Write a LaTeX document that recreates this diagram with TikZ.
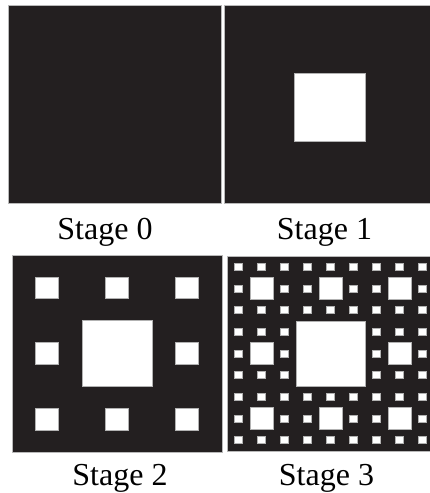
\documentclass[tikz,border=0pt]{standalone}
\usepackage{fontspec}
\setmainfont{Liberation Serif}
\definecolor{carpetdark}{RGB}{35,31,32}

\begin{document}
\begin{tikzpicture}[
    x=1pt, y=-1pt,
    panel/.style={
        fill=carpetdark, draw=gray!55, line width=0.8pt,
    },
    hole/.style={
        fill=white, draw=gray!60, line width=0.6pt,
    },
    caption/.style={
        font=\fontsize{32}{32}\selectfont, anchor=base, inner sep=0pt,
    },
]
\useasboundingbox (0,0) rectangle (430,493);
\clip (0,0) rectangle (430,493);

% ── Stage 0: full square ────────────────────────────────────
\path[panel] (8,5) rectangle (221,203);
\node[caption] (cap0) at (105,239) {Stage 0};

% ── Stage 1: one hole ───────────────────────────────────────
\path[panel] (224,5) rectangle (433,203);
\path[hole] (294,73) rectangle (365,141);
\node[caption] (cap1) at (324.5,239) {Stage 1};

% ── Stage 2: grid of 27 units ───────────────────────────────
\begin{scope}[shift={(12,255)}, xscale=210/27, yscale=197/27]
    \path[panel] (0,0) rectangle (27,27);
    \path[hole] (9,9) rectangle (18,18);
    \foreach \i/\j in {0/0,1/0,2/0,0/1,2/1,0/2,1/2,2/2} {
        \path[hole] ({9*\i+3},{9*\j+3}) rectangle +(3,3);
    }
\end{scope}
\node[caption] (cap2) at (120,485) {Stage 2};

% ── Stage 3: one more level ─────────────────────────────────
\begin{scope}[shift={(227,256)}, xscale=207/27, yscale=195/27]
    \path[panel] (0,0) rectangle (27,27);
    \path[hole] (9,9) rectangle (18,18);
    \foreach \i/\j in {0/0,1/0,2/0,0/1,2/1,0/2,1/2,2/2} {
        \path[hole] ({9*\i+3},{9*\j+3}) rectangle +(3,3);
    }
    \foreach \i in {0,...,8} {
        \foreach \j in {0,...,8} {
            \pgfmathtruncatemacro{\keep}{((mod(\i,3)==1 && mod(\j,3)==1) || (div(\i,3)==1 && div(\j,3)==1)) ? 0 : 1}
            \ifnum\keep=1
                \path[hole] ({3*\i+1},{3*\j+1}) rectangle +(1,1);
            \fi
        }
    }
\end{scope}
\node[caption] (cap3) at (326.5,485) {Stage 3};

\end{tikzpicture}
\end{document}
